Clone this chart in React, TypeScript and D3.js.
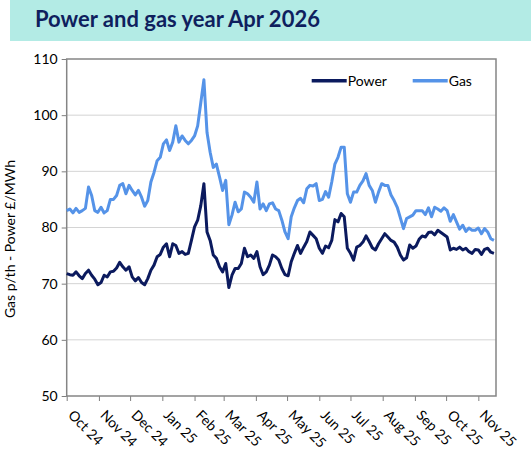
import React, { useRef, useEffect } from "react";
import * as d3 from "d3";

// readings every 3 days from 1 Oct 2024
const startDate = new Date(2024, 9, 1);
const stepDays = 3;

const power = [
  71.8, 71.6, 71.5, 72.1, 71.4, 70.9, 71.8, 72.4, 71.5, 70.8,
  69.8, 70.2, 71.5, 71.2, 72.1, 72.2, 72.8, 73.8, 73.0, 72.4,
  73.0, 71.2, 70.5, 71.1, 70.2, 69.8, 70.9, 72.4, 73.3, 74.8,
  75.2, 76.5, 77.1, 74.8, 77.1, 76.8, 75.4, 75.7, 75.2, 75.4,
  77.7, 80.1, 81.3, 83.9, 87.8, 79.2, 77.7, 75.1, 74.5, 73.0,
  72.1, 73.6, 69.3, 71.5, 72.7, 72.7, 73.6, 76.3, 74.8, 75.1,
  74.5, 75.7, 73.0, 71.6, 72.1, 73.3, 75.1, 74.8, 74.2, 72.7,
  71.6, 71.4, 73.9, 75.4, 76.8, 75.4, 76.5, 77.5, 79.2, 78.6,
  78.0, 76.3, 75.4, 76.7, 76.4, 77.7, 81.4, 81.0, 82.5, 81.9,
  76.3, 75.4, 74.2, 76.5, 76.8, 77.4, 78.5, 77.5, 76.4, 76.0,
  77.1, 78.0, 78.9, 78.3, 77.7, 77.4, 76.5, 75.1, 74.2, 74.6,
  76.9, 76.3, 76.7, 77.9, 78.5, 78.3, 79.1, 79.2, 78.7, 79.5,
  79.1, 78.7, 78.3, 76.0, 76.3, 76.1, 76.5, 76.0, 76.3, 75.7,
  75.4, 76.1, 76.0, 75.2, 76.1, 76.3, 75.6, 75.4,
];

const gas = [
  83.0, 83.3, 82.6, 83.4, 82.7, 83.0, 83.4, 87.2, 85.7, 83.0,
  82.7, 83.6, 82.6, 83.0, 85.0, 85.0, 85.7, 87.5, 87.8, 86.0,
  87.5, 86.6, 85.8, 86.6, 85.4, 83.8, 84.8, 88.1, 89.8, 91.9,
  92.5, 94.9, 95.6, 93.7, 95.2, 98.1, 95.2, 96.3, 95.5, 94.9,
  95.5, 96.3, 98.1, 102.2, 106.3, 96.9, 93.4, 90.7, 91.3, 89.0,
  86.6, 88.4, 80.5, 82.2, 84.5, 82.8, 83.3, 86.3, 86.0, 85.4,
  84.5, 88.1, 83.3, 84.2, 83.0, 84.2, 84.4, 83.3, 83.0, 81.3,
  79.2, 78.0, 81.9, 83.5, 84.8, 85.2, 84.4, 86.9, 87.5, 87.4,
  87.8, 84.8, 85.0, 86.4, 85.4, 88.1, 91.3, 92.5, 94.3, 94.3,
  86.0, 84.5, 86.3, 86.3, 87.5, 88.3, 89.6, 87.5, 86.6, 84.5,
  86.3, 87.8, 87.5, 87.5, 85.8, 84.8, 83.6, 81.7, 79.8, 81.6,
  81.9, 82.2, 83.0, 83.0, 83.0, 82.3, 83.5, 81.9, 83.6, 83.3,
  82.9, 83.5, 83.0, 81.1, 82.3, 81.0, 79.7, 80.4, 79.3, 79.9,
  79.5, 79.5, 79.9, 78.9, 79.8, 79.2, 78.0, 77.7,
];

const yTicks = [50, 60, 70, 80, 90, 100, 110];
const seriesNames = ["Power", "Gas"];
const seriesColors = ["#0b1a5e", "#5593e8"];

const W = 531;
const H = 452;
const FONT = "Lato, 'Open Sans', sans-serif";

const App: React.FC = () => {
  const svgRef = useRef<SVGSVGElement | null>(null);

  useEffect(() => {
    const svg = d3.select(svgRef.current);
    svg.selectAll("*").remove();

    const left = 66.7, right = 496, top = 59, bottom = 396;

    const x = d3
      .scaleTime()
      .domain([startDate, new Date(2025, 10, 18)])
      .range([left, right]);
    const y = d3.scaleLinear().domain([50, 110]).range([bottom, top]);

    // title band
    svg.append("rect")
      .attr("x", 10).attr("y", 0)
      .attr("width", W - 10).attr("height", 41)
      .attr("fill", "#b3ebe5");
    svg.append("text")
      .attr("x", 35).attr("y", 26.5)
      .attr("font-family", FONT)
      .attr("font-weight", "bold")
      .attr("font-size", 22)
      .attr("fill", "#0f1f5e")
      .text("Power and gas year Apr 2026");

    // gridlines
    svg.append("g")
      .selectAll("line")
      .data(yTicks.slice(1, -1))
      .join("line")
      .attr("x1", left).attr("x2", right)
      .attr("y1", (d) => y(d)).attr("y2", (d) => y(d))
      .attr("stroke", "#d4d4d4")
      .attr("stroke-width", 1);

    // y axis
    const yAxis = svg.append("g")
      .attr("transform", `translate(${left},0)`)
      .call(d3.axisLeft(y).tickValues(yTicks).tickSize(5).tickPadding(4));
    yAxis.select(".domain").remove();
    yAxis.selectAll(".tick line").attr("stroke", "#7f7f7f");
    yAxis.selectAll(".tick text")
      .attr("font-family", FONT)
      .attr("font-size", 14)
      .attr("fill", "#000");

    // x axis
    const months = d3.timeMonth.range(startDate, new Date(2025, 11, 1));
    const xAxis = svg.append("g")
      .attr("transform", `translate(0,${bottom})`)
      .call(d3.axisBottom(x).tickValues(months).tickSize(5).tickFormat(d3.timeFormat("%b %y") as any));
    xAxis.select(".domain").remove();
    xAxis.selectAll(".tick line").attr("stroke", "#7f7f7f");
    xAxis.selectAll(".tick text")
      .attr("font-family", FONT)
      .attr("font-size", 14)
      .attr("fill", "#000")
      .attr("text-anchor", "start")
      .attr("dy", null)
      .attr("y", 0)
      .attr("transform", "translate(0,20) rotate(45)");

    // plot frame
    svg.append("rect")
      .attr("x", left).attr("y", top)
      .attr("width", right - left).attr("height", bottom - top)
      .attr("fill", "none")
      .attr("stroke", "#858585")
      .attr("stroke-width", 1.5);

    // lines
    const dates = power.map((_, i) => d3.timeDay.offset(startDate, i * stepDays));
    const line = d3.line<number>()
      .x((_, i) => x(dates[i]))
      .y((d) => y(d));
    [power, gas].forEach((values, i) => {
      svg.append("path")
        .datum(values)
        .attr("d", line)
        .attr("fill", "none")
        .attr("stroke", seriesColors[i])
        .attr("stroke-width", 3)
        .attr("stroke-linejoin", "round");
    });

    // legend
    const legendX = [311.7, 412.7];
    seriesNames.forEach((name, i) => {
      const g = svg.append("g").attr("transform", `translate(${legendX[i]},80.7)`);
      g.append("line")
        .attr("x1", 0).attr("x2", 35)
        .attr("stroke", seriesColors[i])
        .attr("stroke-width", 3.5);
      g.append("text")
        .attr("x", 36).attr("y", 5)
        .attr("font-family", FONT)
        .attr("font-size", 14)
        .attr("fill", "#000")
        .text(name);
    });

    // y axis title
    svg.append("text")
      .attr("transform", `translate(15,239) rotate(-90)`)
      .attr("text-anchor", "middle")
      .attr("font-family", FONT)
      .attr("font-size", 14)
      .attr("fill", "#000")
      .text("Gas p/th - Power £/MWh");
  }, []);

  return (
    <svg
      ref={svgRef}
      width={W}
      height={H}
      style={{ position: "absolute", left: 0, top: 0, background: "#fff" }}
    />
  );
};

export default App;
